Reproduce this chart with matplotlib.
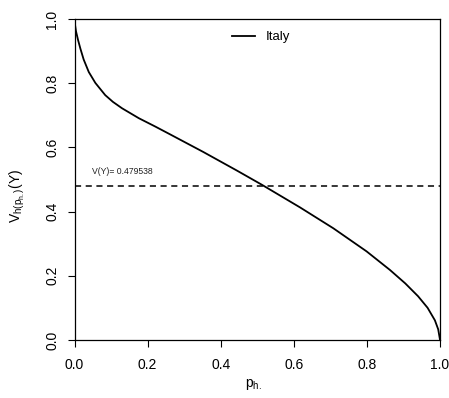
import matplotlib
matplotlib.use("Agg")
import matplotlib.pyplot as plt

# values
p = [0.0, 0.001, 0.004, 0.0096, 0.016, 0.025, 0.039, 0.057, 0.084, 0.105,
     0.130, 0.176, 0.221, 0.261, 0.352, 0.444, 0.512, 0.617, 0.708, 0.799,
     0.863, 0.905, 0.940, 0.966, 0.986, 0.995, 1.0]
v = [1.0, 0.985, 0.962, 0.935, 0.908, 0.874, 0.835, 0.801, 0.763, 0.742,
     0.722, 0.691, 0.665, 0.641, 0.586, 0.528, 0.484, 0.413, 0.348, 0.276,
     0.218, 0.176, 0.136, 0.100, 0.061, 0.033, 0.0]
vy = 0.479538
ticks = [0.0, 0.2, 0.4, 0.6, 0.8, 1.0]

plt.rcParams['font.family'] = ['Liberation Sans', 'DejaVu Sans']

fig = plt.figure(figsize=(4.49, 3.98), dpi=100)
ax = fig.add_axes([0.166, 0.146, 0.814, 0.806])

ax.plot(p, v, color='black', lw=1.3, label='Italy', solid_joinstyle='round')
ax.axhline(vy, color='black', lw=1.1, ls=(0, (4, 3)))
ax.text(0.047, 0.524, "V(Y)= %g" % vy, fontsize=6.2, color='#222222',
        va='center', transform=ax.transAxes)

ax.set_xlim(0, 1)
ax.set_ylim(0, 1)
ax.set_xticks(ticks)
ax.set_yticks(ticks)
ax.set_xticklabels(["%.1f" % t for t in ticks])
ax.set_yticklabels(["%.1f" % t for t in ticks], rotation=90, va='center')
ax.tick_params(direction='out', length=5, width=0.8, labelsize=10)
ax.tick_params(axis='x', pad=8)
ax.tick_params(axis='y', pad=6)
for s in ax.spines.values():
    s.set_linewidth(0.9)

ax.text(0.49, -0.14, r'$\mathregular{p_{h.}}$', fontsize=10,
        ha='center', va='center', transform=ax.transAxes)
ax.text(-0.157, 0.45, r'$\mathregular{V_{h(p_{h.})}(Y)}$', fontsize=10,
        ha='center', va='center', rotation=90, transform=ax.transAxes)

ax.legend(loc='upper center', frameon=False, fontsize=9.5, handlelength=1.8,
          bbox_to_anchor=(0.51, 1.0))

fig.savefig("out.png", dpi=100)
